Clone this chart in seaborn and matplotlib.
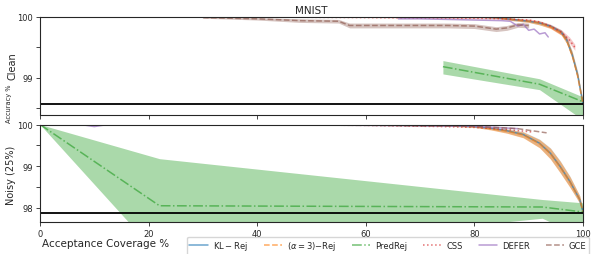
import numpy as np
import pandas as pd
import seaborn as sns
import matplotlib.pyplot as plt
from matplotlib.ticker import MultipleLocator, FuncFormatter

# ---- data (coverage %, accuracy %) ----
# Clean
cov_kl_clean = [0, 20, 40, 60, 80, 84, 87, 90, 92, 94, 96, 97, 98, 99, 100]
kl_clean = [100, 100, 100, 100, 100, 99.99, 99.96, 99.93, 99.9, 99.85, 99.75, 99.62, 99.38, 99.05, 98.56]
kl_clean_err = [0, 0, 0, 0, 0, 0.01, 0.02, 0.02, 0.03, 0.03, 0.04, 0.05, 0.06, 0.06, 0.05]
a3_clean = [100, 100, 100, 100, 100, 99.99, 99.96, 99.93, 99.9, 99.84, 99.74, 99.61, 99.37, 99.03, 98.56]

cov_pred_clean = [74.2, 92, 100]
pred_clean = [99.18, 98.89, 98.6]
pred_clean_lo = [99.06, 98.8, 98.3]
pred_clean_hi = [99.28, 98.98, 98.68]

cov_css_clean = [0, 20, 40, 60, 80, 86, 90, 92, 94, 96, 97.5, 98.5]
css_clean = [100, 100, 100, 99.99, 99.98, 99.97, 99.95, 99.92, 99.85, 99.75, 99.62, 99.5]
css_clean_err = [0, 0, 0, 0, 0.01, 0.01, 0.02, 0.02, 0.03, 0.04, 0.05, 0.05]

cov_defer_clean = [66, 70, 75, 80, 85, 86.6, 88, 89, 90, 91, 92, 93, 93.6]
defer_clean = [99.97, 99.97, 99.96, 99.95, 99.94, 99.93, 99.85, 99.88, 99.78, 99.8, 99.72, 99.74, 99.67]

cov_gce_clean = [30, 40, 48, 55, 57, 65, 75, 80, 84, 86, 88, 90]
gce_clean = [99.99, 99.97, 99.94, 99.93, 99.86, 99.86, 99.86, 99.85, 99.8, 99.82, 99.87, 99.86]
gce_clean_err = [0.01, 0.02, 0.03, 0.03, 0.04, 0.04, 0.04, 0.04, 0.04, 0.04, 0.04, 0.04]

# Noisy (25%)
cov_kl_noisy = [0, 20, 40, 60, 75, 80, 83, 86, 89, 92, 94, 95.8, 97.6, 99.4, 100]
kl_noisy = [100, 100, 100, 99.99, 99.97, 99.95, 99.91, 99.85, 99.76, 99.55, 99.31, 98.99, 98.63, 98.2, 97.9]
kl_noisy_err = [0, 0, 0, 0.01, 0.01, 0.02, 0.03, 0.05, 0.07, 0.1, 0.13, 0.14, 0.13, 0.09, 0.05]
a3_noisy = [100, 100, 100, 99.99, 99.97, 99.95, 99.9, 99.84, 99.75, 99.54, 99.3, 98.98, 98.62, 98.2, 97.9]

cov_pred_noisy = [0, 22, 92.5, 100]
pred_noisy = [100, 98.05, 98.02, 97.9]
pred_noisy_lo = [100, 96.84, 97.75, 97.3]
pred_noisy_hi = [100, 99.18, 98.2, 98.12]

cov_css_noisy = [0, 20, 40, 60, 74, 80, 86, 90.6]
css_noisy = [100, 99.99, 99.99, 99.98, 99.95, 99.93, 99.88, 99.82]

cov_defer_noisy = [0, 8, 10, 12, 20, 40, 60, 80, 88]
defer_noisy = [100, 99.99, 99.95, 99.99, 99.99, 99.99, 99.98, 99.96, 99.9]

cov_gce_noisy = [0, 20, 40, 60, 80, 88, 93.3]
gce_noisy = [100, 99.99, 99.99, 99.98, 99.96, 99.9, 99.8]

base_clean = 98.56
base_noisy = 97.87

sns.set_style("ticks")
plt.rcParams['font.family'] = ['DejaVu Sans']

fig, (ax1, ax2) = plt.subplots(2, 1, figsize=(5.98, 2.55), dpi=100, sharex=True)
fig.subplots_adjust(left=40 / 598, right=583 / 598, top=1 - 18 / 255, bottom=1 - 223 / 255,
                    hspace=10 / 97.5)

c = sns.color_palette("tab10")
lw = 1.1
la = 0.65


def band(ax, x, lo, hi, color, alpha=0.35):
    ax.fill_between(x, lo, hi, color=color, alpha=alpha, lw=0)


# ---- clean panel ----
band(ax1, cov_kl_clean, np.array(kl_clean) - kl_clean_err, np.array(kl_clean) + kl_clean_err, c[0], 0.2)
band(ax1, cov_kl_clean, np.array(a3_clean) - kl_clean_err, np.array(a3_clean) + kl_clean_err, c[1], 0.5)
band(ax1, cov_pred_clean, pred_clean_lo, pred_clean_hi, c[2], 0.4)
band(ax1, cov_css_clean, np.array(css_clean) - css_clean_err, np.array(css_clean) + css_clean_err, c[3], 0.25)
band(ax1, cov_gce_clean, np.array(gce_clean) - gce_clean_err, np.array(gce_clean) + gce_clean_err, c[5], 0.35)

sns.lineplot(x=cov_kl_clean, y=kl_clean, ax=ax1, color=c[0], lw=lw, alpha=la, label=r'$\mathrm{KL-Rej}$')
sns.lineplot(x=cov_kl_clean, y=a3_clean, ax=ax1, color=c[1], lw=lw, alpha=la, ls='--',
             label=r'$(\alpha=3){-}\mathrm{Rej}$')
sns.lineplot(x=cov_pred_clean, y=pred_clean, ax=ax1, color=c[2], lw=lw, alpha=la, ls='-.', label='PredRej')
sns.lineplot(x=cov_css_clean, y=css_clean, ax=ax1, color=c[3], lw=lw, alpha=la, ls=':', label='CSS')
sns.lineplot(x=cov_defer_clean, y=defer_clean, ax=ax1, color=c[4], lw=lw, alpha=la, label='DEFER')
sns.lineplot(x=cov_gce_clean, y=gce_clean, ax=ax1, color=c[5], lw=lw, alpha=la, ls='--', label='GCE')
ax1.axhline(base_clean, color='black', lw=1.3)

# ---- noisy panel ----
band(ax2, cov_kl_noisy, np.array(kl_noisy) - kl_noisy_err, np.array(kl_noisy) + kl_noisy_err, c[0], 0.2)
band(ax2, cov_kl_noisy, np.array(a3_noisy) - kl_noisy_err, np.array(a3_noisy) + kl_noisy_err, c[1], 0.5)
band(ax2, cov_pred_noisy, pred_noisy_lo, pred_noisy_hi, c[2], 0.4)

sns.lineplot(x=cov_kl_noisy, y=kl_noisy, ax=ax2, color=c[0], lw=lw, alpha=la)
sns.lineplot(x=cov_kl_noisy, y=a3_noisy, ax=ax2, color=c[1], lw=lw, alpha=la, ls='--')
sns.lineplot(x=cov_pred_noisy, y=pred_noisy, ax=ax2, color=c[2], lw=lw, alpha=la, ls='-.')
sns.lineplot(x=cov_css_noisy, y=css_noisy, ax=ax2, color=c[3], lw=lw, alpha=la, ls=':')
sns.lineplot(x=cov_defer_noisy, y=defer_noisy, ax=ax2, color=c[4], lw=lw, alpha=la)
sns.lineplot(x=cov_gce_noisy, y=gce_noisy, ax=ax2, color=c[5], lw=lw, alpha=la, ls='--')
ax2.axhline(base_noisy, color='black', lw=1.3)

# ---- axes styling ----
fmt = FuncFormatter(lambda v, p: '%d' % round(v) if abs(v - round(v)) < 1e-6 else '')
ax1.set_ylim(98.39, 100.0)
ax2.set_ylim(97.66, 100.0)
ax2.set_xlim(0, 100)
ax2.xaxis.set_major_locator(MultipleLocator(20))
for ax in (ax1, ax2):
    ax.yaxis.set_major_locator(MultipleLocator(0.5))
    ax.yaxis.set_major_formatter(fmt)
    ax.tick_params(labelsize=6, length=3, width=0.6, pad=2)
    for s in ax.spines.values():
        s.set_linewidth(0.8)
    ax.set_ylabel('')
    ax.set_xlabel('')
ax1.tick_params(labelbottom=False)
ax1.legend_.remove()

ax1.set_title('MNIST', fontsize=7.5, pad=3)
fig.text(12.5 / 598, 1 - 66 / 255, 'Clean', rotation=90, ha='center', va='center', fontsize=7)
fig.text(11.5 / 598, 1 - 175 / 255, 'Noisy (25%)', rotation=90, ha='center', va='center', fontsize=7)
fig.text(9.5 / 598, 1 - 104 / 255, 'Accuracy %', rotation=90, ha='center', va='center', fontsize=4.8)
fig.text(42 / 598, 1 - 244 / 255, 'Acceptance Coverage %', ha='left', va='center', fontsize=7.5)

handles, labels = ax1.get_legend_handles_labels()
fig.legend(handles, labels, loc='center', bbox_to_anchor=(388 / 598, 1 - 246.5 / 255), ncol=6,
           fontsize=6, handlelength=2.2, columnspacing=1.9, frameon=True, borderpad=0.3,
           handletextpad=0.6)

plt.savefig('out.png', dpi=100)
